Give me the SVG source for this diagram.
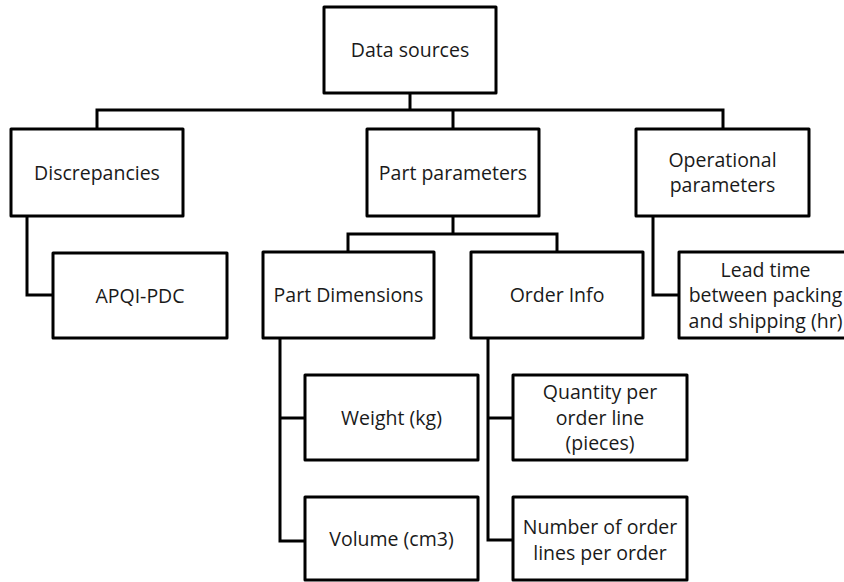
<svg xmlns="http://www.w3.org/2000/svg" width="844" height="582" viewBox="0 0 844 582">
<style>
.box{fill:#fff;stroke:#000;stroke-width:3;stroke-linejoin:round}
.lbl{font-family:"Open Sans","Liberation Sans",sans-serif;font-size:19.5px;fill:#1a1a1a;text-anchor:middle}
.con{fill:none;stroke:#000;stroke-width:3;stroke-linejoin:miter}
</style>
<rect width="844" height="582" fill="#fff"/>
<g id="connectors">
<path class="con" d="M410,93 V110"/>
<path class="con" d="M97,129 V110 H723 V129"/>
<path class="con" d="M453,110 V129"/>
<path class="con" d="M27,216 V295 H53"/>
<path class="con" d="M453,216 V234"/>
<path class="con" d="M348,252 V234 H557 V252"/>
<path class="con" d="M653,216 V295 H679"/>
<path class="con" d="M280,338 V541 H305"/>
<path class="con" d="M280,418 H305"/>
<path class="con" d="M488,338 V540 H513"/>
<path class="con" d="M488,418 H513"/>
</g>
<g id="data-sources">
<rect class="box" x="324" y="7" width="172" height="86"/>
<text class="lbl" x="410" y="57">Data sources</text>
</g>
<g id="discrepancies">
<rect class="box" x="11" y="129" width="172" height="87"/>
<text class="lbl" x="97" y="179.5">Discrepancies</text>
</g>
<g id="part-parameters">
<rect class="box" x="367" y="129" width="172" height="87"/>
<text class="lbl" x="453" y="179.5">Part parameters</text>
</g>
<g id="operational-parameters">
<rect class="box" x="636" y="129" width="173" height="87"/>
<text class="lbl" x="722.5" y="166.5">Operational</text>
<text class="lbl" x="722.5" y="192">parameters</text>
</g>
<g id="apqi-pdc">
<rect class="box" x="53" y="253" width="174" height="85"/>
<text class="lbl" x="140" y="302.5">APQI-PDC</text>
</g>
<g id="part-dimensions">
<rect class="box" x="263" y="252" width="171" height="86"/>
<text class="lbl" x="348.5" y="302">Part Dimensions</text>
</g>
<g id="order-info">
<rect class="box" x="471" y="252" width="172" height="86"/>
<text class="lbl" x="557" y="302">Order Info</text>
</g>
<g id="lead-time">
<rect class="box" x="679" y="252" width="173" height="86"/>
<text class="lbl" x="765.5" y="276.5">Lead time</text>
<text class="lbl" x="765.5" y="302">between packing</text>
<text class="lbl" x="765.5" y="327.5">and shipping (hr)</text>
</g>
<g id="weight">
<rect class="box" x="305" y="375" width="173" height="85"/>
<text class="lbl" x="391.5" y="424.5">Weight (kg)</text>
</g>
<g id="volume">
<rect class="box" x="305" y="497" width="173" height="83"/>
<text class="lbl" x="391.5" y="545.5">Volume (cm3)</text>
</g>
<g id="quantity">
<rect class="box" x="513" y="375" width="174" height="85"/>
<text class="lbl" x="600" y="399">Quantity per</text>
<text class="lbl" x="600" y="424.5">order line</text>
<text class="lbl" x="600" y="450">(pieces)</text>
</g>
<g id="number-of-lines">
<rect class="box" x="513" y="497" width="174" height="83"/>
<text class="lbl" x="600" y="534">Number of order</text>
<text class="lbl" x="600" y="559.5">lines per order</text>
</g>
</svg>
